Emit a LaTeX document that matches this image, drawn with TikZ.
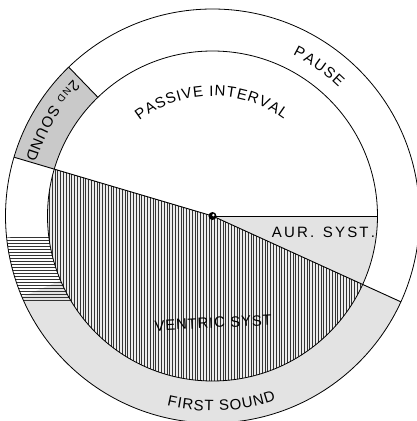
\documentclass[tikz,border=0pt]{standalone}
\usepackage{fontspec}
\setsansfont{Liberation Sans}
\usepackage{tikz}
\usetikzlibrary{decorations.text}

\newcommand{\lblfont}{\sffamily\fontsize{15}{15}\selectfont}
\newcommand{\lblsmall}{\sffamily\fontsize{10}{10}\selectfont}

\begin{document}
\begin{tikzpicture}[
    x=1pt, y=1pt,
    rim/.style={draw=black, line width=0.8pt},
    radial/.style={draw=black, line width=0.9pt},
    lightshade/.style={fill=gray!22},
    darkshade/.style={fill=gray!42},
    hatchline/.style={black!80, line width=0.5pt},
    curved/.style={decorate, decoration={text along path, text align={fit to path}, text={#1}}}
]
    \useasboundingbox (-212.5,-205) rectangle (203.5,216);

    \coordinate (pivot)    at (0,0);
    \coordinate (lefttip)  at (163.5:207);
    \coordinate (righttip) at (335.5:207);
    \coordinate (aurtip)   at (0:165);
    \coordinate (sndout)   at (134:207);
    \coordinate (sndin)    at (134:165);

    % shaded parts of the ring
    \fill[lightshade] (203:165) arc[start angle=203, end angle=335.5, radius=165]
        -- (335.5:207) arc[start angle=335.5, end angle=203, radius=207] -- cycle;
    \fill[darkshade] (134:165) arc[start angle=134, end angle=163.5, radius=165]
        -- (163.5:207) arc[start angle=163.5, end angle=134, radius=207] -- cycle;
    \begin{scope}
        \clip (186:165) arc[start angle=186, end angle=216, radius=165]
            -- (216:207) arc[start angle=216, end angle=186, radius=207] -- cycle;
        \clip (-215,-21) rectangle (-100,-84);
        \foreach \y in {-21,-24,...,-84}
            \draw[hatchline] (-215,\y) -- (-100,\y);
    \end{scope}

    % auricular systole
    \fill[lightshade] (pivot) -- (335.5:165) arc[start angle=335.5, end angle=360, radius=165] -- cycle;

    % ventricular systole
    \begin{scope}
        \clip (pivot) -- (163.5:165) arc[start angle=163.5, end angle=335.5, radius=165] -- cycle;
        \fill[gray!15] (-170,-170) rectangle (170,60);
        \foreach \x in {-166,-163.2,...,166}
            \draw[hatchline] (\x,-170) -- (\x,60);
    \end{scope}

    % circles and radii
    \draw[rim] (pivot) circle (207);
    \draw[rim] (pivot) circle (165);
    \draw[radial] (lefttip) -- (pivot) -- (righttip);
    \draw[radial] (pivot) -- (aurtip);
    \draw[radial] (sndout) -- (sndin);
    \fill (pivot) circle (4);
    \fill[white] (0.9,0.9) circle (1.3);

    % labels
    \path[curved={|\lblfont|PAUSE}] (63.5:180) arc[start angle=63.5, end angle=45.5, radius=180];
    \path[curved={|\lblfont|PASSIVE INTERVAL}] (127.5:120) arc[start angle=127.5, end angle=53.5, radius=120];
    \path[curved={|\lblfont|2|\lblsmall|ND|\lblfont| SOUND}] (135.5:195) arc[start angle=135.5, end angle=163, radius=195];
    \path[curved={|\lblfont|FIRST SOUND}] (256.5:195) arc[start angle=256.5, end angle=289, radius=195];
    \path[curved={|\lblfont|AUR. SYST.}] (59.5,-21) -- (162.5,-21);
    \path[curved={|\lblfont|VENTRIC SYST}] (-57.5,-115) -- (59.5,-109);
\end{tikzpicture}
\end{document}
